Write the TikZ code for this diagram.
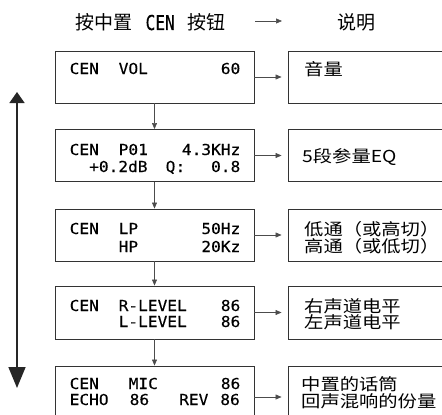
\documentclass[tikz,border=0pt]{standalone}
\usepackage{fontspec}
\setmainfont{DejaVu Sans}
\newfontfamily\hdcjk{Noto Sans CJK SC}
\newfontfamily\hdmono[FakeStretch=0.79,FakeBold=0.2]{DejaVu Sans Mono}
\newfontfamily\bxcjk[FakeStretch=1.17]{Noto Sans CJK SC}
\newfontfamily\bxmono[FakeStretch=1.07,FakeBold=0.25]{DejaVu Sans Mono}
\usetikzlibrary{arrows.meta,
	positioning}

\begin{document}
\begin{tikzpicture}[x=1pt,y=-1pt,
        lbox/.style={draw=black!80,line width=0.9pt,minimum width=199pt,inner sep=0pt},
        rbox/.style={draw=black!80,line width=0.9pt,minimum width=170pt,inner sep=0pt},
        sarrow/.style={draw=black!70,line width=0.6pt,-{Triangle[length=6pt,width=5pt]}},
        mono/.style={inner sep=0pt,font=\bxmono\fontsize{15.1}{18}\selectfont},
        cjk/.style={inner sep=0pt,font=\bxcjk\fontsize{16.5}{18}\selectfont}]
        \useasboundingbox (0,0) rectangle (442,415);
        \clip (0,0) rectangle (442,415);

        %header
        \node[anchor=base west,inner sep=0pt] (head) at (75,30) {{\hdcjk\fontsize{19}{22}\selectfont 按中置}\hspace{13.4pt}{\hdmono\fontsize{20.5}{22}\selectfont CEN}\hspace{12.5pt}{\hdcjk\fontsize{19}{22}\selectfont 按钮}};
        \node[anchor=base west,inner sep=0pt,font=\hdcjk\fontsize{19}{22}\selectfont] (desc) at (337,30) {说明};
        \coordinate (ha) at (255,21);
        \coordinate (hb) at (282,21);
        \draw[sarrow] (ha) -- (hb);

        %boxes
        \foreach \i/\y/\h in {1/77/52,2/155.5/52,3/235/52,4/312.5/53,5/397/62}{
            \node[lbox,minimum height=\h pt] (l\i) at (154.5,\y) {};
            \node[rbox,minimum height=\h pt] (r\i) at (373,\y) {};
            \draw[sarrow,shorten >=6pt] (l\i) -- (r\i);
        }
        \foreach \i/\j in {1/2,2/3,3/4,4/5}
            \draw[sarrow] (l\i.south) -- (l\j.north);

        %up-down arrow
        \coordinate (ud-top) at (17,92);
        \coordinate (ud-bot) at (17,388);
        \draw[line width=1.6pt,black!85,{Triangle[length=11pt,width=15pt]}-{Triangle[length=21pt,width=17pt]}] (ud-top) -- (ud-bot);

        %VOL
        \node[mono,anchor=base west] (cen1) at (69.5,74) {CEN};
        \node[mono,anchor=base west] (vol) at (118.5,74) {VOL};
        \node[mono,anchor=base east] (vol-v) at (240.5,74) {60};
        \node[cjk,anchor=base west] (vol-d) at (304,75) {音量};

        %P01
        \node[mono,anchor=base west] (cen2) at (69.5,155) {CEN};
        \node[mono,anchor=base west] (p01) at (118.5,155) {P01};
        \node[mono,anchor=base east] (p01-f) at (240.5,155) {4.3KHz};
        \node[mono,anchor=base west] (gain) at (89,172) {+0.2dB};
        \node[mono,anchor=base west] (q) at (165.5,172) {Q:};
        \node[mono,anchor=base east] (q-v) at (240.5,172) {0.8};
        \node[cjk,anchor=base west] (eq-d) at (302,162) {5段参量EQ};

        %LP HP
        \node[mono,anchor=base west] (cen3) at (69.5,234) {CEN};
        \node[mono,anchor=base west] (lp) at (118.5,234) {LP};
        \node[mono,anchor=base east] (lp-v) at (240.5,234) {50Hz};
        \node[mono,anchor=base west] (hp) at (118.5,252) {HP};
        \node[mono,anchor=base east] (hp-v) at (240.5,252) {20Kz};
        \node[cjk,anchor=base west] (lp-d) at (304,235) {低通（或高切）};
        \node[cjk,anchor=base west] (hp-d) at (304,252) {高通（或低切）};

        %LEVEL
        \node[mono,anchor=base west] (cen4) at (69.5,311) {CEN};
        \node[mono,anchor=base west] (rl) at (118.5,311) {R-LEVEL};
        \node[mono,anchor=base east] (rl-v) at (240.5,311) {86};
        \node[mono,anchor=base west] (ll) at (118.5,327) {L-LEVEL};
        \node[mono,anchor=base east] (ll-v) at (240.5,327) {86};
        \node[cjk,anchor=base west] (rl-d) at (304,312) {右声道电平};
        \node[cjk,anchor=base west] (ll-d) at (304,328) {左声道电平};

        %MIC
        \node[mono,anchor=base west] (cen5) at (69.5,389) {CEN};
        \node[mono,anchor=base west] (mic) at (128.5,389) {MIC};
        \node[mono,anchor=base east] (mic-v) at (240.5,389) {86};
        \node[mono,anchor=base west] (echo) at (69.5,405) {ECHO};
        \node[mono,anchor=base west] (echo-v) at (129.5,405) {86};
        \node[mono,anchor=base west] (rev) at (179,405) {REV};
        \node[mono,anchor=base east] (rev-v) at (240,405) {86};
        \node[cjk,anchor=base west] (mic-d) at (301,390) {中置的话筒};
        \node[cjk,anchor=base west] (echo-d) at (301,407) {回声混响的份量};
\end{tikzpicture}
\end{document}
